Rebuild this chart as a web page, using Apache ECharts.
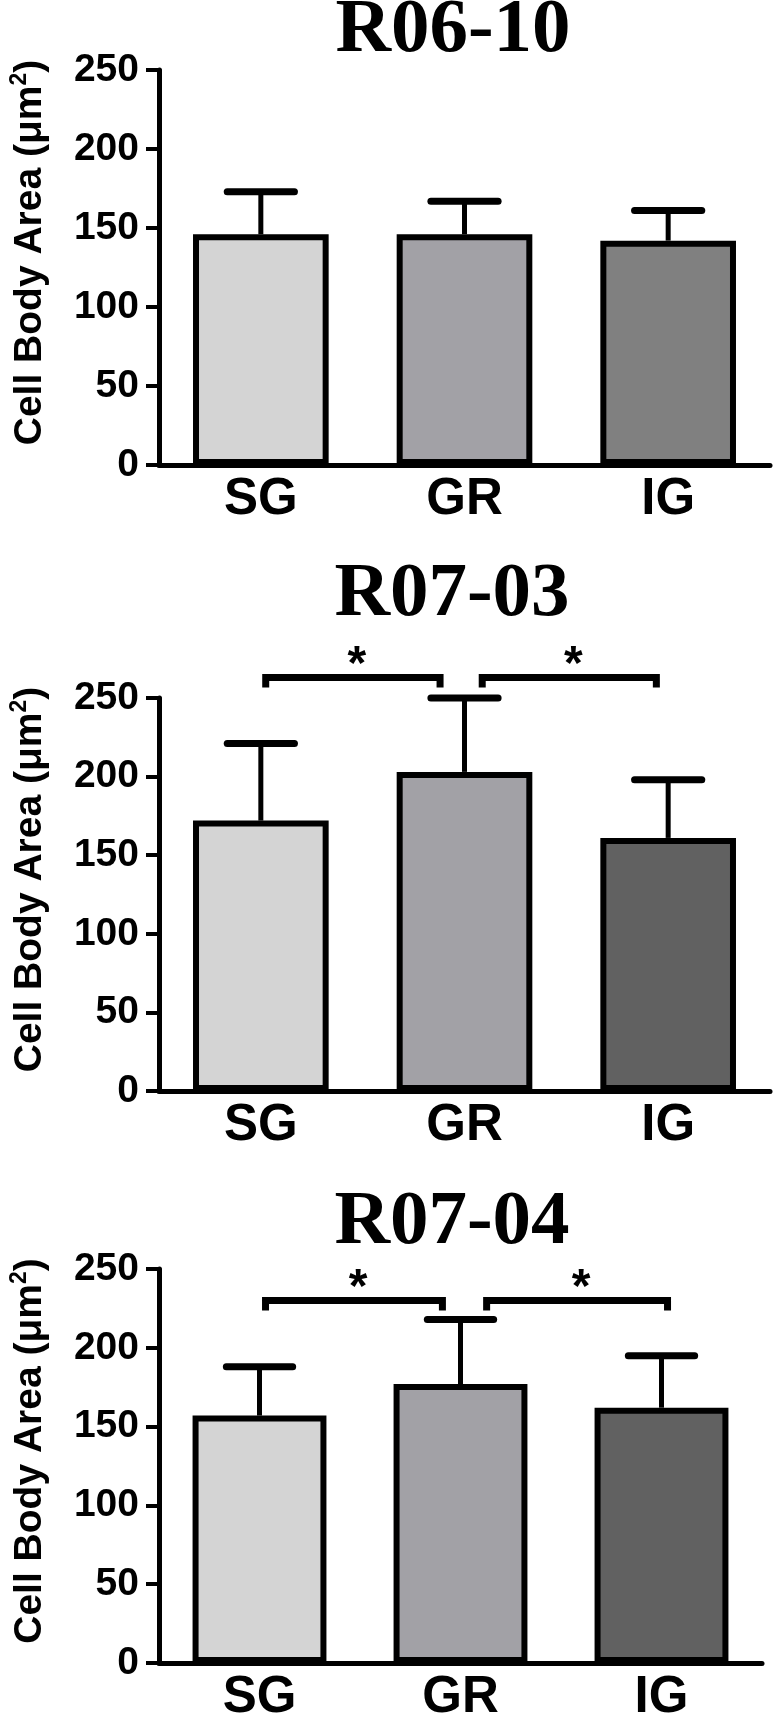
<!DOCTYPE html>
<html>
<head>
<meta charset="utf-8">
<script src="https://cdn.jsdelivr.net/npm/echarts@6/dist/echarts.min.js"></script>
<style>
  html, body { margin: 0; padding: 0; background: #fff; }
  #chart { width: 779px; height: 1723px; }
</style>
</head>
<body>
<div id="chart"></div>
<script>
// ---- data ----
const categories = ['SG', 'GR', 'IG'];
const panelTitles = ['R06-10', 'R07-03', 'R07-04'];
const yTickValues = [0, 50, 100, 150, 200, 250];

const r0610Mean = [146, 146, 142];
const r0610Err  = [27, 21, 19];
const r0703Mean = [172, 203, 161];
const r0703Err  = [49, 47, 37];
const r0704Mean = [157, 177, 162];
const r0704Err  = [31, 41, 33];

// significance brackets: [fromCategoryIndex, toCategoryIndex, yValue]
const r0703Brackets = [[0, 1, 263], [1, 2, 263]];
const r0704Brackets = [[0, 1, 230], [1, 2, 230]];
const starLabel = '*';

// ---- style ----
const barColors = [
  ['#d4d4d4', '#a2a1a6', '#808080'],
  ['#d4d4d4', '#a2a1a6', '#616161'],
  ['#d4d4d4', '#a2a1a6', '#616161']
];
const grids = [
  { left: 148, top: 70,   width: 622, height: 395 },
  { left: 148, top: 698,  width: 622, height: 393 },
  { left: 158, top: 1269, width: 604, height: 395 }
];
const titleTops = [-7, 557, 1185];
const titleCenters = [453, 452, 452];
// bracket end insets as fraction of category band
const bracketInsets = [
  null,
  [[0.024, -0.12], [0.087, -0.058]],
  [[0.03, -0.09], [0.13, 0.03]]
];

const means = [r0610Mean, r0703Mean, r0704Mean];
const errs = [r0610Err, r0703Err, r0704Err];
const brackets = [[], r0703Brackets, r0704Brackets];

const sansFont = 'Liberation Sans, Arial, sans-serif';

const option = {
  backgroundColor: '#fff',
  animation: false,
  title: panelTitles.map((t, i) => ({
    text: t,
    left: titleCenters[i],
    top: titleTops[i],
    textAlign: 'center',
    padding: 0,
    textStyle: {
      fontFamily: 'Liberation Serif, Times New Roman, serif',
      fontWeight: 'bold',
      fontSize: 77,
      color: '#000'
    }
  })),
  grid: grids.map(g => Object.assign({ containLabel: false }, g)),
  xAxis: grids.map((g, i) => ({
    type: 'category',
    gridIndex: i,
    data: categories,
    axisLine: { lineStyle: { color: '#000', width: 5 } },
    axisTick: { alignWithLabel: true, length: 10, lineStyle: { color: '#000', width: 4 } },
    axisLabel: { color: '#000', fontFamily: sansFont, fontWeight: 'bold', fontSize: 51, margin: 9 },
    splitLine: { show: false }
  })),
  yAxis: grids.map((g, i) => ({
    type: 'value',
    gridIndex: i,
    min: yTickValues[0],
    max: yTickValues[yTickValues.length - 1],
    interval: yTickValues[1] - yTickValues[0],
    name: 'Cell Body Area (μm{sup|2})',
    nameLocation: 'middle',
    nameRotate: 90,
    nameGap: 107,
    nameTextStyle: {
      color: '#000',
      fontFamily: sansFont,
      fontWeight: 'bold',
      fontSize: 39,
      lineHeight: 44,
      padding: [0, 0, 0, 30],
      rich: {
        sup: { fontFamily: sansFont, fontWeight: 'bold', fontSize: 23, lineHeight: 26, verticalAlign: 'top', color: '#000' }
      }
    },
    axisLine: { show: true, lineStyle: { color: '#000', width: 5 } },
    axisTick: { show: true, length: 13, lineStyle: { color: '#000', width: 4 } },
    axisLabel: { color: '#000', fontFamily: sansFont, fontWeight: 'bold', fontSize: 39, margin: 20 },
    splitLine: { show: false }
  })),
  series: []
};

for (let i = 0; i < 3; i++) {
  option.series.push({
    type: 'bar',
    xAxisIndex: i,
    yAxisIndex: i,
    barWidth: '66.6%',
    data: means[i].map((v, k) => ({
      value: v,
      itemStyle: { color: barColors[i][k] }
    })),
    itemStyle: { borderColor: '#000', borderWidth: 6 },
    z: 2
  });
  option.series.push({
    type: 'custom',
    xAxisIndex: i,
    yAxisIndex: i,
    clip: false,
    z: 3,
    data: means[i].map((m, k) => [k, m, errs[i][k]]),
    encode: { x: 0, y: 1 },
    renderItem: function (params, api) {
      const idx = api.value(0), m = api.value(1), e = api.value(2);
      const p0 = api.coord([idx, m]);
      const p1 = api.coord([idx, m + e]);
      const band = api.size([1, 0])[0];
      const half = band * 0.165;
      return {
        type: 'group',
        children: [
          { type: 'line', shape: { x1: p0[0], y1: p0[1], x2: p1[0], y2: p1[1] },
            style: { stroke: '#000', lineWidth: 5 } },
          { type: 'line', shape: { x1: p1[0] - half, y1: p1[1], x2: p1[0] + half, y2: p1[1] },
            style: { stroke: '#000', lineWidth: 7, lineCap: 'round' } }
        ]
      };
    }
  });
  if (brackets[i].length) {
    const insets = bracketInsets[i];
    option.series.push({
      type: 'custom',
      xAxisIndex: i,
      yAxisIndex: i,
      clip: false,
      z: 4,
      data: brackets[i],
      encode: { x: 0, y: 2 },
      renderItem: function (params, api) {
        const from = api.value(0), to = api.value(1), yv = api.value(2);
        const a = api.coord([from, yv]);
        const b = api.coord([to, yv]);
        const band = api.size([1, 0])[0];
        const ins = insets[params.dataIndex];
        const x1 = a[0] + ins[0] * band;
        const x2 = b[0] + ins[1] * band;
        const y = a[1];
        return {
          type: 'group',
          children: [
            { type: 'polyline',
              shape: { points: [[x1, y + 10], [x1, y], [x2, y], [x2, y + 10]] },
              style: { stroke: '#000', fill: null, lineWidth: 7, lineJoin: 'miter', lineCap: 'butt' } },
            { type: 'text',
              style: { text: starLabel, x: (x1 + x2) / 2 + 4, y: y - 12,
                       align: 'center', verticalAlign: 'middle',
                       font: 'bold 48px Liberation Sans, Arial, sans-serif', fill: '#000' } }
          ]
        };
      }
    });
  }
}

const chart = echarts.init(document.getElementById('chart'), null, { renderer: 'canvas' });
chart.setOption(option);
</script>
</body>
</html>
